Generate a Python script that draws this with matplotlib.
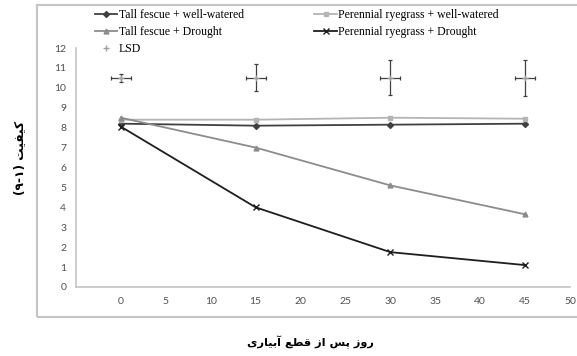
import matplotlib
matplotlib.use('Agg')
import matplotlib.pyplot as plt
from matplotlib.patches import Rectangle

# داده‌ها
days = [0, 15, 30, 45]
tf_well = [8.2, 8.1, 8.15, 8.2]
pr_well = [8.4, 8.4, 8.5, 8.45]
tf_drought = [8.5, 7.0, 5.1, 3.65]
pr_drought = [8.05, 4.0, 1.75, 1.1]
lsd_y = [10.5, 10.5, 10.5, 10.5]
lsd_err = [0.2, 0.68, 0.88, 0.92]
lsd_xerr = [1.1, 1.1, 1.1, 1.1]
xticks = list(range(0, 55, 5))
yticks = list(range(0, 13))

# شکل‌دهی دستی حروف فارسی (matplotlib اتصال حروف را انجام نمی‌دهد)
FORMS = {
    'ا': ('\uFE8D', '\uFE8E', None, None),
    'آ': ('\uFE81', '\uFE82', None, None),
    'ب': ('\uFE8F', '\uFE90', '\uFE91', '\uFE92'),
    'پ': ('\uFB56', '\uFB57', '\uFB58', '\uFB59'),
    'ت': ('\uFE95', '\uFE96', '\uFE97', '\uFE98'),
    'ر': ('\uFEAD', '\uFEAE', None, None),
    'ز': ('\uFEAF', '\uFEB0', None, None),
    'س': ('\uFEB1', '\uFEB2', '\uFEB3', '\uFEB4'),
    'ط': ('\uFEC1', '\uFEC2', '\uFEC3', '\uFEC4'),
    'ع': ('\uFEC9', '\uFECA', '\uFECB', '\uFECC'),
    'ف': ('\uFED1', '\uFED2', '\uFED3', '\uFED4'),
    'ق': ('\uFED5', '\uFED6', '\uFED7', '\uFED8'),
    'و': ('\uFEED', '\uFEEE', None, None),
    'ی': ('\uFBFC', '\uFBFD', '\uFBFE', '\uFBFF'),
    'ک': ('\uFB8E', '\uFB8F', '\uFB90', '\uFB91'),
}


def fa(text):
    out = []
    for i, ch in enumerate(text):
        if ch not in FORMS:
            out.append(ch)
            continue
        iso, fin, ini, med = FORMS[ch]
        prev = text[i - 1] if i > 0 else ''
        nxt = text[i + 1] if i + 1 < len(text) else ''
        jp = prev in FORMS and FORMS[prev][2] is not None
        jn = nxt in FORMS and ini is not None
        if jp and jn:
            out.append(med)
        elif jp:
            out.append(fin)
        elif jn:
            out.append(ini)
        else:
            out.append(iso)
    return ''.join(reversed(out))


fig = plt.figure(figsize=(5.77, 3.56), dpi=100)
ax = fig.add_axes([76 / 577, 1 - 287 / 356, (570 - 76) / 577, (287 - 48) / 356])

# قاب بیرونی
fig.patches.append(Rectangle((37 / 577, 1 - 317 / 356), 1.0, (317 - 5) / 356,
                             transform=fig.transFigure, fill=False,
                             edgecolor='#c4c4c4', lw=1.5, zorder=0))

l1, = ax.plot(days, tf_well, color='#404040', marker='D', ms=3, lw=1.3,
              label='Tall fescue + well-watered')
l2, = ax.plot(days, pr_well, color='#b4b4b4', marker='s', ms=3.5, lw=1.3,
              label='Perennial ryegrass + well-watered')
l3, = ax.plot(days, tf_drought, color='#8c8c8c', marker='^', ms=3.5, lw=1.3,
              label='Tall fescue + Drought')
l4, = ax.plot(days, pr_drought, color='#1e1e1e', marker='x', ms=4.5, lw=1.3,
              label='Perennial ryegrass + Drought')
eb = ax.errorbar(days, lsd_y, yerr=lsd_err, xerr=lsd_xerr, fmt='none',
                 ecolor='#404040', elinewidth=0.9, capsize=1.5, capthick=0.9)
l5, = ax.plot(days, lsd_y, ls='none', marker='+', color='#a0a0a0', ms=4,
              label='LSD')

ax.set_xlim(-5, 50)
ax.set_ylim(0, 12)
ax.set_xticks(xticks)
ax.set_yticks(yticks)
for s in ['top', 'right']:
    ax.spines[s].set_visible(False)
for s in ['left', 'bottom']:
    ax.spines[s].set_color('#c4c4c4')
    ax.spines[s].set_linewidth(1.2)
ax.tick_params(length=0, labelsize=7.5, labelcolor='#505050', pad=7)
for t in ax.get_xticklabels() + ax.get_yticklabels():
    t.set_fontfamily('Lato')

fig.text(310 / 577, 1 - 342 / 356, fa('روز پس از قطع آبیاری'),
         ha='center', va='center', fontsize=8.2, fontweight='bold',
         family='DejaVu Sans')
fig.text(20 / 577, 1 - 158 / 356, '(۹-۱) ' + fa('کیفیت'), rotation=90,
         ha='center', va='center', fontsize=8.8, fontweight='bold',
         family='DejaVu Sans')

fig.legend(handles=[l1, l3, l5, l2, l4], ncol=2, loc='upper left',
           bbox_to_anchor=(95 / 577, 1 - 9 / 356), frameon=False,
           prop={'family': 'Liberation Serif', 'size': 8.5},
           handlelength=1.9, handletextpad=0.1, labelspacing=0.42,
           columnspacing=6.0, borderpad=0, borderaxespad=0)

fig.savefig('out.png', dpi=100)
